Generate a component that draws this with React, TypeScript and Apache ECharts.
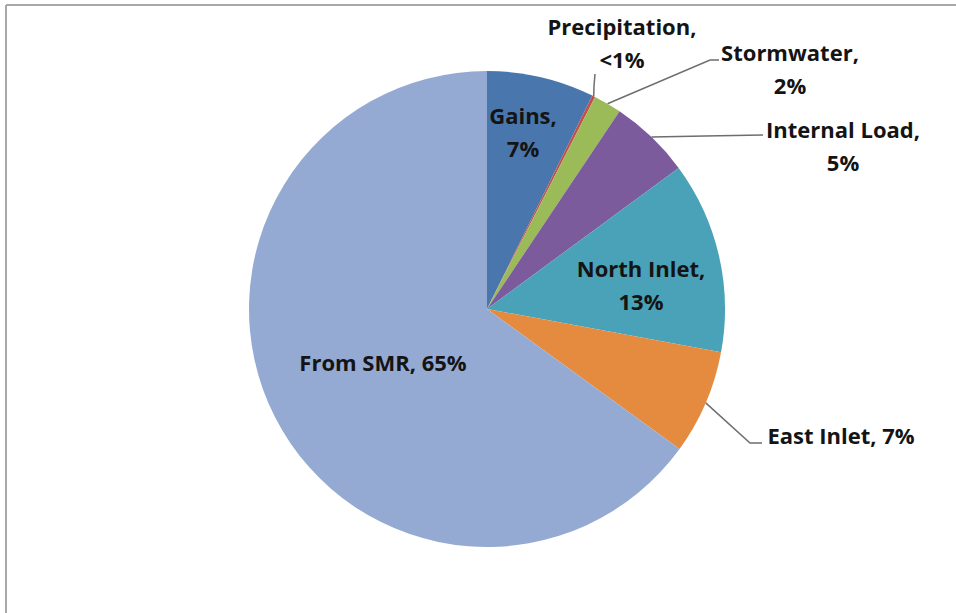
import React, { useEffect, useRef } from "react";
import * as echarts from "echarts";

const names = ["Gains", "Precipitation", "Stormwater", "Internal Load", "North Inlet", "East Inlet", "From SMR"];
const values = [7.3, 0.2, 1.9, 5.5, 13.0, 7.1, 65.0];
const pctLabels = ["7%", "<1%", "2%", "5%", "13%", "7%", "65%"];
const singleLine = ["East Inlet", "From SMR"];
const colors = ["#4A76AE", "#C0504D", "#9BBB59", "#7B5B9B", "#4AA2B8", "#E48B40", "#95AAD3"];
const outsideNames = ["Precipitation", "Stormwater", "Internal Load", "East Inlet"];

// label placement (centers) and leader line bends
const labelPos: number[][] = [
  [523, 131],
  [622, 42],
  [790, 68],
  [843, 145],
  [641, 284],
  [841, 435],
  [383, 362],
];
const leaderEnds: (number[][] | null)[] = [
  null,
  [[594, 86], [595, 74]],
  [[710, 60], [719, 60]],
  [[705, 136], [763, 135]],
  null,
  [[750, 443], [762, 443]],
  null,
];

const CX = 487;
const CY = 309;
const R = 238;

export default function App() {
  const ref = useRef<HTMLDivElement>(null);
  useEffect(() => {
    if (!ref.current) return;
    const chart = echarts.init(ref.current, undefined, { renderer: "svg" });
    const total = values.reduce((a, b) => a + b, 0);
    const edgePts: number[][] = [];
    let acc = 0;
    values.forEach((v) => {
      const mid = (acc + v / 2) / total;
      acc += v;
      const th = mid * Math.PI * 2;
      edgePts.push([CX + R * Math.sin(th), CY - R * Math.cos(th)]);
    });
    const data = names.map((n, i) => {
      const outside = outsideNames.includes(n);
      return {
        name: n,
        value: values[i],
        itemStyle: { color: colors[i] },
        label: { position: outside ? "outside" : "inside" },
        labelLine: { show: outside },
      };
    });
    chart.setOption({
      animation: false,
      graphic: [
        { type: "line", shape: { x1: 6, y1: 5, x2: 956, y2: 5 }, style: { stroke: "#a8a8a8", lineWidth: 2 } },
        { type: "line", shape: { x1: 6, y1: 5, x2: 6, y2: 613 }, style: { stroke: "#a8a8a8", lineWidth: 2 } },
      ],
      series: [
        {
          type: "pie",
          center: [CX, CY],
          radius: R,
          startAngle: 90,
          clockwise: true,
          avoidLabelOverlap: false,
          data,
          itemStyle: { borderWidth: 0 },
          label: {
            show: true,
            fontFamily: "Open Sans",
            fontWeight: "bold",
            fontSize: 22,
            lineHeight: 33,
            color: "#141414",
            align: "center",
            formatter: (p: any) => {
              const i = p.dataIndex;
              return singleLine.includes(names[i])
                ? `${names[i]}, ${pctLabels[i]}`
                : `${names[i]},\n${pctLabels[i]}`;
            },
          },
          labelLine: {
            lineStyle: { color: "#6e6e6e", width: 1.5 },
          },
          labelLayout: (params: any) => {
            const i = params.dataIndex;
            const p = labelPos[i];
            const res: any = { x: p[0], y: p[1], align: "center", verticalAlign: "middle" };
            const le = leaderEnds[i];
            if (le) {
              res.labelLinePoints = [edgePts[i], le[0], le[1]];
            }
            return res;
          },
        },
      ],
    });
    return () => chart.dispose();
  }, []);
  return (
    <div
      ref={ref}
      style={{ position: "absolute", left: 0, top: 0, width: 956, height: 613, background: "#fff" }}
    />
  );
}
